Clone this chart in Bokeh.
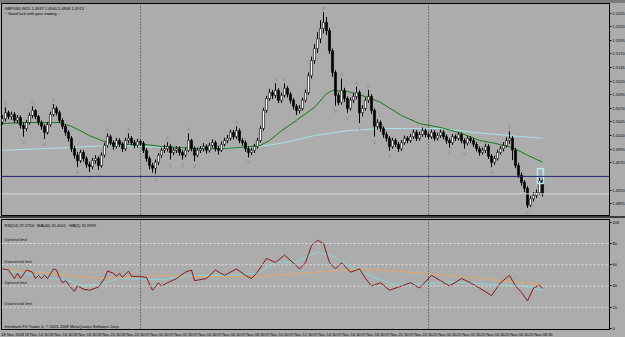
from bokeh.plotting import figure
from bokeh.models import Range1d, FixedTicker, PrintfTickFormatter, Span, Label, Div, ColumnDataSource
from bokeh.layouts import column
from bokeh.embed import file_html
from bokeh.resources import INLINE
from bokeh.core.properties import value

# ---------------- data ----------------
header_text = "GBPUSD,M15  1.4937 1.4940 1.4908 1.4913"
comment_text = "~ Good luck with your trading ~"
rsi_title = "RSI(14) 37.5754  ~MA(40) 41.4001  ~MA(5) 35.9999"
copyright_text = "Interbank FX Trader 4, \u00a9 2001-2008 MetaQuotes Software Corp."

first_open = 1.5045
closes = [
    1.5051, 1.5062, 1.5055, 1.5059, 1.5048, 1.5053, 1.5039, 1.5033, 1.5044, 1.5057,
    1.5066, 1.5055, 1.5044, 1.5037, 1.5026, 1.5040, 1.5059, 1.5070, 1.5062, 1.5048,
    1.5037, 1.5026, 1.5015, 1.4996, 1.4984, 1.4974, 1.4989, 1.4978, 1.4967, 1.4963,
    1.4974, 1.4978, 1.4965, 1.4984, 1.5002, 1.5018, 1.5007, 1.5000, 1.5011, 1.5004,
    1.4996, 1.5011, 1.5015, 1.5007, 1.5002, 1.5009, 1.5006, 1.4993, 1.4978, 1.4965,
    1.4960, 1.4971, 1.4984, 1.4993, 1.4996, 1.5000, 1.4989, 1.4993, 1.4996, 1.4989,
    1.4984, 1.4993, 1.5011, 1.4996, 1.4984, 1.4993, 1.4996, 1.5000, 1.4993, 1.5002,
    1.5007, 1.4996, 1.4993, 1.5004, 1.5011, 1.5015, 1.5026, 1.5018, 1.5029, 1.5011,
    1.5007, 1.4996, 1.4989, 1.4993, 1.5000, 1.5011, 1.5033, 1.5066, 1.5088, 1.5099,
    1.5094, 1.5103, 1.5085, 1.5094, 1.5107, 1.5096, 1.5085, 1.5074, 1.5066, 1.5070,
    1.5085, 1.5099, 1.5130, 1.5158, 1.5180, 1.5198, 1.5217, 1.5228, 1.5213, 1.5176,
    1.5136, 1.5094, 1.5081, 1.5103, 1.5088, 1.5070, 1.5085, 1.5092, 1.5099, 1.5062,
    1.5070, 1.5085, 1.5092, 1.5066, 1.5037, 1.5044, 1.5033, 1.5022, 1.5015, 1.5000,
    1.5011, 1.5004, 1.4996, 1.5007, 1.5015, 1.5011, 1.5018, 1.5026, 1.5015, 1.5022,
    1.5029, 1.5022, 1.5018, 1.5026, 1.5015, 1.5020, 1.5026, 1.5018, 1.5011, 1.5007,
    1.5018, 1.5015, 1.5022, 1.5011, 1.5006, 1.5015, 1.5011, 1.5004, 1.4996, 1.4989,
    1.4993, 1.5000, 1.4982, 1.4971, 1.4978, 1.4989, 1.4996, 1.5002, 1.5011, 1.5015,
    1.4993, 1.4965, 1.4947, 1.4934, 1.4923, 1.4892, 1.4904, 1.4910, 1.4915, 1.4937,
    1.4913]
highs = [
    1.5058, 1.5072, 1.5066, 1.5064, 1.5063, 1.5058, 1.5057, 1.5044, 1.5049, 1.5062,
    1.5074, 1.5069, 1.5058, 1.5048, 1.5041, 1.5045, 1.5064, 1.5078, 1.5074, 1.5066,
    1.5052, 1.5041, 1.5030, 1.5019, 1.5001, 1.4990, 1.4994, 1.4993, 1.4982, 1.4972,
    1.4979, 1.4984, 1.4982, 1.4989, 1.5007, 1.5024, 1.5022, 1.5011, 1.5016, 1.5015,
    1.5008, 1.5016, 1.5024, 1.5019, 1.5012, 1.5014, 1.5013, 1.5010, 1.4997, 1.4982,
    1.4970, 1.4976, 1.4988, 1.4998, 1.5003, 1.5008, 1.5004, 1.4998, 1.5001, 1.5000,
    1.4994, 1.4998, 1.5024, 1.5014, 1.5000, 1.4998, 1.5001, 1.5006, 1.5004, 1.5007,
    1.5013, 1.5011, 1.5001, 1.5009, 1.5016, 1.5021, 1.5031, 1.5030, 1.5037, 1.5033,
    1.5015, 1.5011, 1.5000, 1.4998, 1.5005, 1.5016, 1.5038, 1.5071, 1.5093, 1.5106,
    1.5104, 1.5116, 1.5107, 1.5099, 1.5116, 1.5111, 1.5100, 1.5089, 1.5078, 1.5076,
    1.5090, 1.5105, 1.5136, 1.5165, 1.5188, 1.5210, 1.5232, 1.5247, 1.5238, 1.5218,
    1.5180, 1.5140, 1.5099, 1.5125, 1.5108, 1.5092, 1.5090, 1.5098, 1.5110, 1.5103,
    1.5076, 1.5090, 1.5104, 1.5096, 1.5070, 1.5050, 1.5048, 1.5037, 1.5027, 1.5019,
    1.5016, 1.5015, 1.5008, 1.5012, 1.5020, 1.5019, 1.5023, 1.5031, 1.5030, 1.5027,
    1.5035, 1.5033, 1.5027, 1.5031, 1.5030, 1.5025, 1.5031, 1.5030, 1.5022, 1.5015,
    1.5023, 1.5022, 1.5027, 1.5026, 1.5015, 1.5020, 1.5019, 1.5015, 1.5008, 1.5000,
    1.4998, 1.5005, 1.5004, 1.4986, 1.4983, 1.4994, 1.5001, 1.5008, 1.5017, 1.5028,
    1.5019, 1.4997, 1.4970, 1.4952, 1.4938, 1.4927, 1.4909, 1.4916, 1.4921, 1.4942,
    1.4940]
lows = [
    1.5040, 1.5046, 1.5050, 1.5049, 1.5043, 1.5042, 1.5033, 1.5018, 1.5028, 1.5040,
    1.5052, 1.5050, 1.5039, 1.5031, 1.5014, 1.5022, 1.5036, 1.5055, 1.5057, 1.5043,
    1.5032, 1.5020, 1.5009, 1.4990, 1.4978, 1.4962, 1.4970, 1.4972, 1.4961, 1.4953,
    1.4958, 1.4968, 1.4957, 1.4961, 1.4980, 1.4998, 1.5002, 1.4994, 1.4996, 1.4999,
    1.4990, 1.4992, 1.5006, 1.5002, 1.4997, 1.4998, 1.5001, 1.4988, 1.4972, 1.4958,
    1.4952, 1.4950, 1.4966, 1.4979, 1.4988, 1.4991, 1.4976, 1.4984, 1.4988, 1.4983,
    1.4976, 1.4980, 1.4990, 1.4991, 1.4973, 1.4980, 1.4988, 1.4991, 1.4987, 1.4989,
    1.4998, 1.4991, 1.4985, 1.4990, 1.5000, 1.5006, 1.5011, 1.5013, 1.5014, 1.5006,
    1.5001, 1.4990, 1.4980, 1.4984, 1.4988, 1.4996, 1.5007, 1.5029, 1.5062, 1.5084,
    1.5087, 1.5089, 1.5080, 1.5080, 1.5090, 1.5090, 1.5079, 1.5068, 1.5058, 1.5061,
    1.5066, 1.5081, 1.5095, 1.5125, 1.5152, 1.5172, 1.5190, 1.5208, 1.5205, 1.5170,
    1.5128, 1.5075, 1.5076, 1.5077, 1.5082, 1.5062, 1.5066, 1.5080, 1.5087, 1.5043,
    1.5055, 1.5066, 1.5080, 1.5060, 1.5018, 1.5031, 1.5027, 1.5016, 1.5009, 1.4992,
    1.4996, 1.4999, 1.4990, 1.4992, 1.5003, 1.5006, 1.5007, 1.5014, 1.5010, 1.5011,
    1.5018, 1.5017, 1.5013, 1.5014, 1.5010, 1.5011, 1.5016, 1.5013, 1.5005, 1.4998,
    1.5003, 1.5010, 1.5011, 1.5006, 1.4996, 1.5002, 1.5006, 1.4999, 1.4991, 1.4983,
    1.4985, 1.4988, 1.4977, 1.4962, 1.4966, 1.4974, 1.4985, 1.4991, 1.4998, 1.5005,
    1.4975, 1.4960, 1.4942, 1.4928, 1.4916, 1.4887, 1.4889, 1.4899, 1.4905, 1.4911,
    1.4908]

fractal_up_bars = [1, 10, 17, 35, 42, 55, 62, 78, 91, 94, 107, 113, 118, 122, 169]
fractal_down_bars = [7, 14, 25, 29, 32, 51, 56, 60, 64, 82, 98, 111, 115, 119, 124, 129, 149, 154, 163, 175]

ma_fast_bars = [0, 6, 16, 19, 23, 26, 29, 33, 36, 41, 47, 53, 59, 66, 73, 79, 86, 89, 93, 98,
                104, 108, 110, 115, 122, 126, 133, 139, 146, 153, 159, 164, 170, 175, 180]
ma_fast_vals = [1.5042, 1.5044, 1.5044, 1.5044, 1.5037, 1.5029, 1.5020, 1.5011, 1.5006, 1.5004,
                1.5004, 1.5000, 1.4998, 1.4996, 1.4996, 1.4998, 1.5002, 1.5011, 1.5029, 1.5048,
                1.5072, 1.5097, 1.5103, 1.5101, 1.5090, 1.5081, 1.5057, 1.5042, 1.5035, 1.5024,
                1.5011, 1.5006, 1.4998, 1.4984, 1.4971]
ma_slow_bars = [0, 22, 36, 66, 83, 93, 104, 115, 126, 133, 146, 157, 169, 180]
ma_slow_vals = [1.4993, 1.4998, 1.5002, 1.4996, 1.4998, 1.5006, 1.5020, 1.5029, 1.5033, 1.5033,
                1.5033, 1.5026, 1.5020, 1.5015]

hline_price = 1.4945
box_left_bar, box_right_bar = 178.3, 180.3
box_top, box_bottom = 1.4959, 1.4932

price_ticks = [1.4870, 1.4895, 1.4920, 1.4970, 1.4995, 1.5020, 1.5045, 1.5070, 1.5095,
               1.5120, 1.5145, 1.5170, 1.5195, 1.5220, 1.5245]

rsi_bars = [0, 2, 4, 5, 6, 8, 10, 11, 12, 13, 14, 15, 17, 18, 19, 20, 21, 23, 24, 25,
            27, 29, 32, 34, 35, 37, 38, 39, 40, 42, 43, 46, 48, 50, 52, 53, 55, 58, 61, 63,
            64, 68, 71, 74, 78, 81, 83, 85, 88, 91, 94, 98, 99, 101, 103, 105, 107, 109, 111, 113,
            116, 119, 121, 123, 126, 129, 133, 136, 139, 143, 146, 149, 153, 156, 159, 163, 166, 169, 171, 173,
            175, 177, 179, 180]
rsi_vals = [56, 55, 47, 52, 47, 55, 53, 47, 50, 47, 50, 47, 56, 55, 48, 43, 45, 38, 35, 40,
            37, 36, 39, 47, 54, 52, 49, 52, 48, 54, 49, 49, 48, 36, 43, 40, 43, 47, 53, 55,
            45, 47, 55, 50, 56, 50, 47, 53, 66, 62, 69, 59, 56, 62, 78, 83, 80, 62, 56, 62,
            53, 56, 47, 40, 43, 36, 40, 43, 38, 50, 45, 40, 47, 43, 38, 31, 43, 50, 40, 34,
            26, 38, 41, 37.6]
rsi_ma_slow_bars = [0, 22, 33, 53, 66, 86, 100, 113, 126, 140, 153, 166, 180]
rsi_ma_slow_vals = [56, 50, 47, 50, 49, 49, 52, 55, 55, 52, 49, 45, 41.4]
rsi_ma_fast_bars = [0, 11, 22, 27, 33, 39, 53, 63, 75, 85, 91, 98, 105, 110, 116, 123, 130, 140,
                    150, 160, 167, 173, 180]
rsi_ma_fast_vals = [55, 50, 45, 40, 42, 47, 46, 50, 50, 52, 62, 63, 72, 68, 58, 49, 42, 42,
                    44, 42, 41, 40, 36]
rsi_levels = [80, 60, 40, 20]
rsi_level_names = ["Uptrend limit", "Downtrend limit", "Uptrend limit", "Downtrend limit"]
rsi_ticks = [0, 20, 40, 60, 80, 100]

day_separator_bars = [46, 142]
time_label_bars = [0, 8, 16, 24, 32, 40, 48, 56, 64, 72, 80, 88, 96, 104, 112, 120, 128, 136,
                   144, 152, 160, 168, 176]
time_labels = ["18 Nov 2008", "18 Nov 14:30", "18 Nov 16:30", "18 Nov 18:30", "18 Nov 20:30",
               "18 Nov 22:30", "19 Nov 00:30", "19 Nov 02:30", "19 Nov 04:30", "19 Nov 06:30",
               "19 Nov 08:30", "19 Nov 10:30", "19 Nov 12:30", "19 Nov 14:30", "19 Nov 16:30",
               "19 Nov 18:30", "19 Nov 20:30", "19 Nov 22:30", "20 Nov 00:30", "20 Nov 02:30",
               "20 Nov 04:30", "20 Nov 06:30", "20 Nov 08:30"]

# ---------------- styling ----------------
BG = "#ACACAC"
FONT = "Liberation Sans"
FS = "4px"

opens = [first_open] + closes[:-1]
bars = list(range(len(closes)))
src = ColumnDataSource(dict(
    bar=bars, high=highs, low=lows,
    top=[max(o, c) for o, c in zip(opens, closes)],
    bottom=[min(o, c) for o, c in zip(opens, closes)],
    fill=["white" if c >= o else "black" for o, c in zip(opens, closes)],
))

xr = Range1d(-0.33, 202.33)

main = figure(frame_width=608, frame_height=213, x_range=xr,
              y_range=Range1d(1.48713, 1.52628), y_axis_location="right",
              x_axis_location=None, toolbar_location=None, output_backend="svg",
              min_border_left=1, min_border_right=0, min_border_top=0, min_border_bottom=0,
              background_fill_color=BG, border_fill_color=BG)
sub = figure(frame_width=608, frame_height=110, x_range=xr,
             y_range=Range1d(-0.94, 102.54), y_axis_location="right",
             toolbar_location=None, output_backend="svg",
             min_border_left=1, min_border_right=0, min_border_top=1, min_border_bottom=0,
             background_fill_color=BG, border_fill_color=BG)

for f in (main, sub):
    f.grid.visible = False
    f.outline_line_color = "black"
    f.outline_line_width = 1
    for ax in f.axis:
        ax.axis_line_color = "black"
        ax.major_tick_line_color = "black"
        ax.major_tick_in = 0
        ax.major_tick_out = 2
        ax.minor_tick_line_color = None
        ax.major_label_text_font_size = FS
        ax.major_label_text_font = FONT
        ax.major_label_text_color = "black"
        ax.major_label_standoff = 1
    for b in day_separator_bars:
        f.add_layout(Span(location=b, dimension="height", line_color="#3a3a3a",
                          line_dash="1 2", line_width=1))

main.yaxis.ticker = FixedTicker(ticks=price_ticks)
main.yaxis.formatter = PrintfTickFormatter(format="%.4f")

# horizontal lines
main.add_layout(Span(location=hline_price, dimension="width", line_color="#1F1F78", line_width=1))
main.add_layout(Span(location=closes[-1], dimension="width", line_color="#DADADA", line_width=1))

# moving averages
main.line(ma_slow_bars, ma_slow_vals, line_color="#A6E3EA", line_width=1)
main.line(ma_fast_bars, ma_fast_vals, line_color="#137A13", line_width=1)

# candles
main.segment(x0="bar", y0="low", x1="bar", y1="high", source=src, line_color="black", line_width=1)
main.vbar(x="bar", width=0.7, top="top", bottom="bottom", fill_color="fill",
          line_color="black", line_width=0.6, source=src)

# fractals
main.text(x=fractal_up_bars, y=[highs[b] for b in fractal_up_bars], text=["\u2227"] * len(fractal_up_bars),
          text_font=value("DejaVu Sans"), text_font_size="6px", text_color="#8E8E8E",
          text_align="center", text_baseline="bottom", y_offset=-1)
main.text(x=fractal_down_bars, y=[lows[b] for b in fractal_down_bars], text=["\u2228"] * len(fractal_down_bars),
          text_font=value("DejaVu Sans"), text_font_size="6px", text_color="#8E8E8E",
          text_align="center", text_baseline="top", y_offset=1)

# rectangle object
main.quad(left=[box_left_bar], right=[box_right_bar], top=[box_top], bottom=[box_bottom],
          fill_alpha=0, line_color="#B3ECF5", line_width=1.5)

# header texts
main.text(x=[xr.start + 1], y=[main.y_range.end], text=[header_text], text_font=value(FONT),
          text_font_size=FS, text_color="black", text_baseline="top", y_offset=2)
main.text(x=[xr.start + 1], y=[main.y_range.end], text=[comment_text], text_font=value(FONT),
          text_font_size=FS, text_color="black", text_baseline="top", y_offset=7)

# price labels on axis
main.add_layout(Label(x=xr.end, y=hline_price, text="%.4f" % hline_price, x_offset=2,
                      text_font_size=FS, text_font=FONT, text_color="white",
                      background_fill_color="#1F1F78", text_baseline="middle"))
main.add_layout(Label(x=xr.end, y=closes[-1], text="%.4f" % closes[-1], x_offset=2,
                      text_font_size=FS, text_font=FONT, text_color="white",
                      background_fill_color="black", text_baseline="middle"))

# ---- RSI panel ----
sub.yaxis.ticker = FixedTicker(ticks=rsi_ticks)
sub.xaxis.ticker = FixedTicker(ticks=[b + 3.4 for b in time_label_bars])
sub.xaxis.major_label_overrides = {b + 3.4: t for b, t in zip(time_label_bars, time_labels)}
sub.xaxis.major_tick_out = 0
sub.xaxis.major_label_standoff = 2

for lv, name in zip(rsi_levels, rsi_level_names):
    sub.add_layout(Span(location=lv, dimension="width", line_color="#E2E2E2",
                        line_dash="2 2", line_width=1))
sub.text(x=[xr.start + 1] * len(rsi_levels), y=rsi_levels, text=rsi_level_names,
         text_font=value(FONT), text_font_size=FS, text_color="#202020",
         text_baseline="bottom", y_offset=-1)

sub.line(rsi_ma_slow_bars, rsi_ma_slow_vals, line_color="#E3A869", line_width=1)
sub.line(rsi_ma_fast_bars, rsi_ma_fast_vals, line_color="#86D6DA", line_width=1)
sub.line(rsi_bars, rsi_vals, line_color="#8B1616", line_width=1)

sub.text(x=[xr.start + 1], y=[sub.y_range.end], text=[rsi_title], text_font=value(FONT),
         text_font_size=FS, text_color="black", text_baseline="top", y_offset=3)
sub.text(x=[xr.start + 1], y=[sub.y_range.start], text=[copyright_text], text_font=value(FONT),
         text_font_size=FS, text_color="black", text_baseline="bottom", y_offset=-1)

top_div = Div(text="", width=625, height=3, margin=0, styles={"background-color": "#7C7C7C"})
band_div = Div(text="", width=625, height=2, margin=0, styles={"background-color": "#3C3C3C"})

layout = column(top_div, main, band_div, sub, spacing=0,
                styles={"background-color": BG})

open("out.html", "w").write(file_html(layout, INLINE))
